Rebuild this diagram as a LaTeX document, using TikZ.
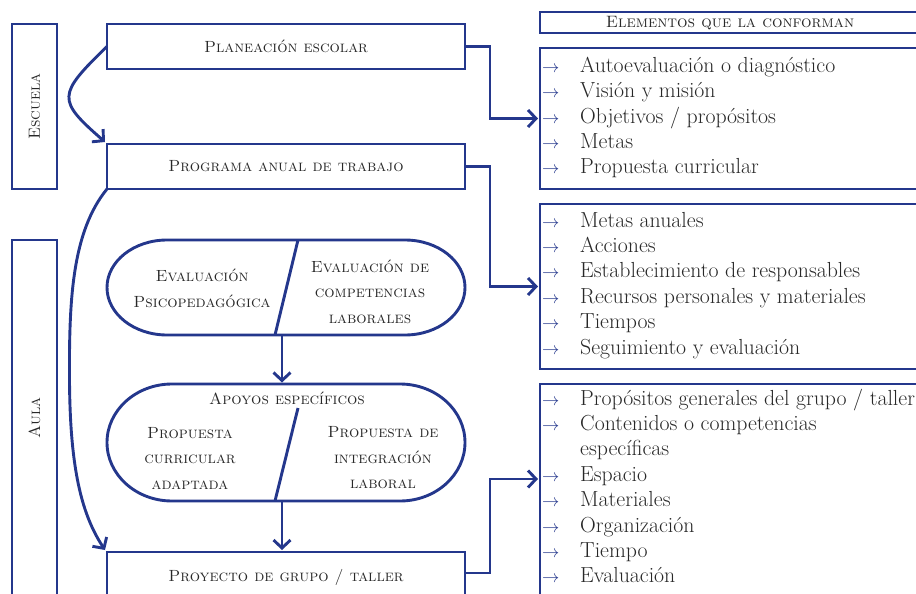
\documentclass[tikz,border=0pt]{standalone}
\usetikzlibrary{arrows.meta,calc}
\definecolor{navy}{RGB}{36,55,140}
\definecolor{ink}{RGB}{40,40,40}
\begin{document}
\begin{tikzpicture}[x=1pt,y=-1pt,
  line/.style={draw=navy,line width=2.9pt},
  conn/.style={navy,line width=2.9pt,-{Straight Barb[length=8pt,width=17pt]}},
  box/.style={line,rectangle,inner sep=0pt,outer sep=0pt},
  ghost/.style={rectangle,inner sep=0pt,outer sep=0pt},
  sc/.style={text=ink,font=\fontsize{16.2}{25.5}\selectfont\scshape,align=center},
  schead/.style={text=ink,font=\fontsize{16.5}{18}\selectfont\scshape},
  item/.style={text=ink,anchor=mid west,inner sep=0pt,font=\fontsize{21.8}{24}\selectfont},
  bullet/.style={text=navy,anchor=mid west,inner sep=0pt,font=\fontsize{16.5}{18}\selectfont},
]
\useasboundingbox (0,0) rectangle (916,594);
\begin{scope}
\clip (0,0) rectangle (916,594);

% side labels
\node[box,minimum width=165,minimum height=45,rotate=90] (esc) at (34.5,106.5) {};
\node[sc,rotate=90] (esct) at (esc.center) {Escuela};
\node[box,minimum width=370,minimum height=45,rotate=90] (aula) at (34.5,425) {};
\node[sc,rotate=90] (aulat) at (34.5,418) {Aula};

% main column
\node[box,sc,minimum width=358,minimum height=45] (pl) at (286,46.5) {Planeación escolar};
\node[box,sc,minimum width=358,minimum height=45] (pr) at (286,166.5) {Programa anual de trabajo};
\node[box,sc,minimum width=358,minimum height=50] (pj) at (286,577) {Proyecto de grupo / taller};

% first rounded block
\node[ghost,minimum width=358,minimum height=95] (s1) at (286,287.5) {};
\draw[line] ($(s1.north west)+(60,0)$) -- ($(s1.north east)+(-60,0)$)
  arc[start angle=90,end angle=-90,x radius=60pt,y radius=47.5pt]
  -- ($(s1.south west)+(60,0)$)
  arc[start angle=270,end angle=90,x radius=60pt,y radius=47.5pt] -- cycle;
\draw[line] ($(s1.north)+(12,0)$) -- ($(s1.south)+(-11,0)$);
\node[sc] (s1l) at (202,288.5) {Evaluación\\Psicopedagógica};
\node[sc] (s1r) at (370,291.5) {Evaluación de\\competencias\\laborales};

% second rounded block
\node[ghost,minimum width=358,minimum height=117] (s2) at (286,442.5) {};
\draw[line] ($(s2.north west)+(65,0)$) -- ($(s2.north east)+(-65,0)$)
  arc[start angle=90,end angle=-90,x radius=65pt,y radius=58.5pt]
  -- ($(s2.south west)+(65,0)$)
  arc[start angle=270,end angle=90,x radius=65pt,y radius=58.5pt] -- cycle;
\draw[line] (298,408) -- ($(s2.south)+(-11,0)$);
\node[sc] (s2t) at (287,398) {Apoyos específicos};
\node[sc] (s2l) at (190,458) {Propuesta\\curricular\\adaptada};
\node[sc] (s2r) at (383,458) {Propuesta de\\integración\\laboral};

% right column
\node[box,minimum width=420,minimum height=21] (hd) at (750,22.5) {};
\node[schead] (hdt) at (730,23) {Elementos que la conforman};
\node[box,minimum width=420,minimum height=141] (l1) at (750,118.5) {};
\node[box,minimum width=420,minimum height=165] (l2) at (750,286.5) {};
\node[box,minimum width=420,minimum height=240] (l3) at (750,504) {};

\foreach \t [count=\i] in {Autoevaluación o diagnóstico,Visión y misión,Objetivos / propósitos,Metas,Propuesta curricular}{
  \node[bullet] (a1-\i) at (542,45.3+25.2*\i) {$\rightarrow$};
  \node[item] (t1-\i) at (580,45.3+25.2*\i) {\t};
}
\foreach \t [count=\i] in {Metas anuales,Acciones,Establecimiento de responsables,Recursos personales y materiales,Tiempos,Seguimiento y evaluación}{
  \node[bullet] (a2-\i) at (542,199.6+25.4*\i) {$\rightarrow$};
  \node[item] (t2-\i) at (580,199.6+25.4*\i) {\t};
}
\foreach \t [count=\i] in {Propósitos generales del grupo / taller,Contenidos o competencias,específicas,Espacio,Materiales,Organización,Tiempo,Evaluación}{
  \ifnum\i=3\else\node[bullet] (a3-\i) at (542,377.6+25.4*\i) {$\rightarrow$};\fi
  \node[item] (t3-\i) at (580,377.6+25.4*\i) {\t};
}

% connectors
\draw[conn,shorten >=2pt] (pl.east) -- ++(25,0) |- (l1.west);
\draw[conn,shorten >=2pt] (pr.east) -- ++(25,0) |- (l2.west);
\draw[conn,shorten >=2pt] ($(pj.north east)+(0,21)$) -- ++(25,0) |- ($(l3.north west)+(0,95)$);
\draw[conn] ($(s1.south)+(-4,0)$) -- ($(s2.north)+(-4,-1.5)$);
\draw[conn] ($(s2.south)+(-4,0)$) -- ($(pj.north)+(-4,-2)$);
\draw[conn] (pl.west) .. controls (57,95) and (57,100) .. ($(pr.north west)+(-2,-2)$);
\draw[conn] (pr.south west) .. controls (72,232) and (69,300) .. (69.5,380)
  .. controls (70,470) and (82,515) .. ($(pj.north west)+(-2,-2)$);
\end{scope}
\end{tikzpicture}
\end{document}
